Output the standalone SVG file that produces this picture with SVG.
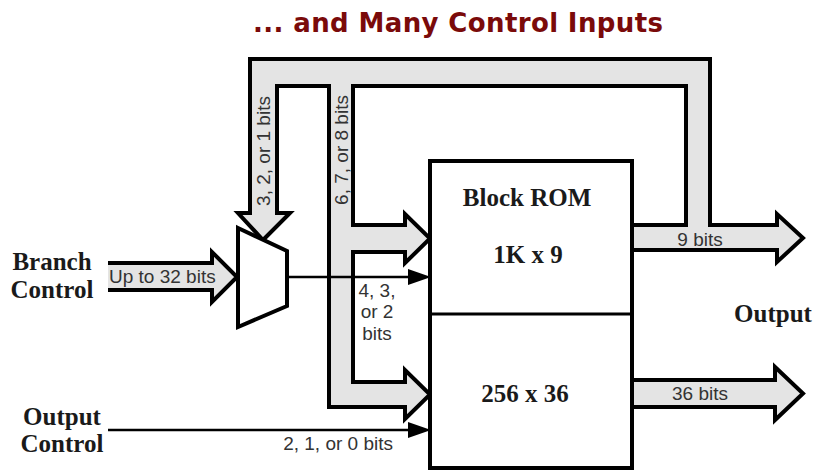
<svg xmlns="http://www.w3.org/2000/svg" width="817" height="471" viewBox="0 0 817 471">
<defs>
<style>
.bus{fill:#e4e4e4;stroke:#000;stroke-width:4;stroke-linejoin:miter}
.busf{fill:#e4e4e4;stroke:none}
.edge{fill:none;stroke:#000;stroke-width:4;stroke-linecap:butt}
.wire{fill:none;stroke:#000;stroke-width:2.5}
.head{fill:#000;stroke:none}
.box{fill:#fff;stroke:#000;stroke-width:4}
.big{font-family:"Liberation Serif","Times New Roman",serif;font-weight:bold;font-size:25px;fill:#1a1a1a}
.lbl{font-family:"Liberation Sans",Arial,sans-serif;font-size:19px;fill:#333}
.title{font-family:"DejaVu Sans",Verdana,sans-serif;font-weight:bold;font-size:26px;fill:#7a0a0a}
</style>
</defs>
<rect width="817" height="471" fill="#fff"/>
<text class="title" x="458" y="32" text-anchor="middle" textLength="410">... and Many Control Inputs</text>

<g id="connectors">
<path class="bus" d="M632,250 L777,250 L777,262 L803,238 L777,214 L777,225 L710,225 L710,59 L250,59 L250,213 L238,213 L263,240 L290,213 L277,213 L277,86 L329,86 L329,407 L405,407 L405,419 L430,394.5 L405,370 L405,382 L353,382 L353,252 L405,252 L405,263 L430,238.5 L405,214 L405,225 L353,225 L353,86 L686,86 L686,225 L632,225 Z"/>
<path class="bus" d="M632,380 L775,380 L775,367 L803,393.5 L775,420 L775,407 L632,407 Z"/>
<polygon class="busf" points="108,263 212,263 212,252 237,277 212,302 212,290 108,290"/>
<path class="edge" d="M108,263 L212,263 L212,252 L237,277 L212,302 L212,290 L108,290"/>
<path class="wire" d="M287,277 L412,277"/>
<polygon class="head" points="408,269 431,277 408,285"/>
<path class="wire" d="M108,430 L412,430"/>
<polygon class="head" points="408,422 431,430 408,438"/>
<text class="lbl" x="109" y="283">Up to 32 bits</text>
<text class="lbl" x="700" y="246" text-anchor="middle">9 bits</text>
<text class="lbl" x="700" y="400" text-anchor="middle">36 bits</text>
<text class="lbl" transform="translate(270,151) rotate(-90)" text-anchor="middle">3, 2, or 1 bits</text>
<text class="lbl" transform="translate(348,150) rotate(-90)" text-anchor="middle">6, 7, or 8 bits</text>
<text class="lbl" x="377" y="297" text-anchor="middle">4, 3,</text>
<text class="lbl" x="377" y="318" text-anchor="middle">or 2</text>
<text class="lbl" x="377" y="340" text-anchor="middle">bits</text>
<text class="lbl" x="393" y="450" text-anchor="end">2, 1, or 0 bits</text>
</g>

<g id="mux">
<polygon class="box" points="238,228 287,251 287,306 238,327"/>
</g>

<g id="rom">
<rect class="box" x="430" y="161" width="202" height="307"/>
<line x1="430" y1="314" x2="632" y2="314" stroke="#000" stroke-width="3"/>
<text class="big" x="527" y="206" text-anchor="middle">Block ROM</text>
<text class="big" x="528" y="263" text-anchor="middle">1K x 9</text>
<text class="big" x="525" y="402" text-anchor="middle">256 x 36</text>
</g>

<g id="branch-control">
<text class="big" x="52" y="270" text-anchor="middle">Branch</text>
<text class="big" x="52" y="298" text-anchor="middle">Control</text>
</g>

<g id="output-control">
<text class="big" x="62" y="425" text-anchor="middle">Output</text>
<text class="big" x="62" y="452" text-anchor="middle">Control</text>
</g>

<g id="output">
<text class="big" x="773" y="322" text-anchor="middle">Output</text>
</g>
</svg>
